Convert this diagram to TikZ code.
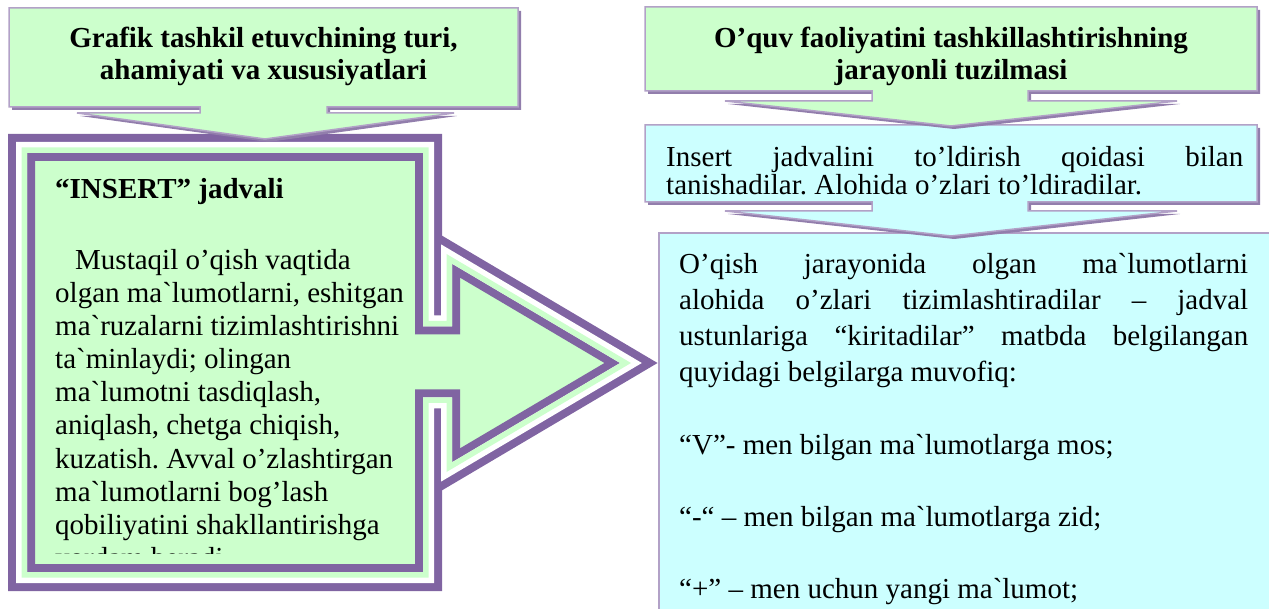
\documentclass[tikz,border=0pt]{standalone}
\usepackage{fontspec}
\setmainfont{Liberation Serif}[Ligatures=TeXOff]
\definecolor{purp}{RGB}{128,100,162}
\definecolor{lav}{RGB}{178,161,199}
\definecolor{shad}{RGB}{146,126,172}
\definecolor{gfill}{RGB}{204,255,204}
\definecolor{cfill}{RGB}{204,255,255}
\newcommand\jl[2]{\makebox[#1pt][s]{#2}}
\frenchspacing
\tikzset{
  txt/.style={inner sep=0pt, anchor=base west, font=\fontsize{29}{32}\selectfont},
  btxt/.style={inner sep=0pt, anchor=base, font=\fontsize{29}{32}\selectfont\bfseries},
  bigpath/.style={insert path={(21.5,147.5) -- (428.5,147.5) -- (428.5,321) -- (446.5,321) -- (446.5,254) -- (631,363) -- (446.5,472) -- (446.5,403) -- (428.5,403) -- (428.5,577.5) -- (21.5,577.5) -- cycle}},
  callA/.style={insert path={(9,8) -- (518,8) -- (518,107) -- (327,107) -- (327,113) -- (454,113) -- (265,139) -- (77,113) -- (200,113) -- (200,107) -- (9,107) -- cycle}},
  callB/.style={insert path={(645,7) -- (1257,7) -- (1257,91) -- (1028,91) -- (1028,101) -- (1177,101) -- (951,126) -- (725,101) -- (872,101) -- (872,91) -- (645,91) -- cycle}},
  callC/.style={insert path={(645,125) -- (1257,125) -- (1257,202) -- (1028,202) -- (1028,211) -- (1177,211) -- (951,236) -- (725,211) -- (872,211) -- (872,202) -- (645,202) -- cycle}},
  shadow/.style={fill=shad, shift={(3,3)}},
  callbox/.style={line width=1.5, draw=lav, line join=miter},
}
\begin{document}
\begin{tikzpicture}[x=1pt,y=-1pt]
\useasboundingbox (0,0) rectangle (1269,609);
% bottom right box
\begin{scope}
  \clip (0,0) rectangle (1269,609);
  \filldraw[fill=cfill, draw=lav, line width=2] (658.5,233) rectangle (1285,625);
\end{scope}
% big purple callout shape
\fill[gfill, bigpath];
\draw[purp, line width=27, miter limit=10, bigpath];
\draw[white, line width=11, miter limit=10, bigpath];
\begin{scope}
  \clip[bigpath];
  \draw[gfill, line width=11, miter limit=10, bigpath];
\end{scope}
% left top callout
\fill[shadow, callA];
\filldraw[callbox, fill=gfill, callA];
% right callouts
\fill[shadow, callC];
\filldraw[callbox, fill=cfill, callC];
\fill[shadow, callB];
\filldraw[callbox, fill=gfill, callB];
% headings
\node[btxt] (h1a) at (263.5,48) {Grafik tashkil etuvchining turi,};
\node[btxt] (h1b) at (263.5,80) {ahamiyati va xususiyatlari};
\node[btxt] (h2a) at (951,48) {O’quv faoliyatini tashkillashtirishning};
\node[btxt] (h2b) at (951,80) {jarayonli tuzilmasi};
% left body
\node[txt, font=\fontsize{29}{32}\selectfont\bfseries] (ins) at (55,199) {“INSERT” jadvali};
\node[txt] (b1) at (75,270) {Mustaqil o’qish vaqtida};
\node[txt] (b2) at (55,303) {olgan ma`lumotlarni, eshitgan};
\node[txt] (b3) at (55,336) {ma`ruzalarni tizimlashtirishni};
\node[txt] (b4) at (55,369) {ta`minlaydi; olingan};
\node[txt] (b5) at (55,402) {ma`lumotni tasdiqlash,};
\node[txt] (b6) at (55,435) {aniqlash, chetga chiqish,};
\node[txt] (b7) at (55,468) {kuzatish. Avval o’zlashtirgan};
\node[txt] (b8) at (55,501) {ma`lumotlarni bog’lash};
\node[txt] (b9) at (55,534) {qobiliyatini shakllantirishga};
\begin{scope}
  \clip (35,162) rectangle (415,553);
  \node[txt] (b10) at (55,567) {yordam beradi.};
\end{scope}
% insert box text
\node[txt] (i1) at (666,166.5) {\jl{577}{Insert jadvalini to’ldirish qoidasi bilan}};
\node[txt] (i2) at (666,195) {tanishadilar. Alohida o’zlari to’ldiradilar.};
% bottom right text
\begin{scope}
  \clip (0,0) rectangle (1269,609);
  \node[txt] (r1) at (679,274) {\jl{569}{O’qish jarayonida olgan ma`lumotlarni}};
  \node[txt] (r2) at (679,310) {\jl{569}{alohida o’zlari tizimlashtiradilar – jadval}};
  \node[txt] (r3) at (679,346) {\jl{569}{ustunlariga “kiritadilar” matbda belgilangan}};
  \node[txt] (r4) at (679,382) {quyidagi belgilarga muvofiq:};
  \node[txt] (r5) at (679,454) {“V”- men bilgan ma`lumotlarga mos;};
  \node[txt] (r6) at (679,526) {“-“ – men bilgan ma`lumotlarga zid;};
  \node[txt] (r7) at (679,598) {“+” – men uchun yangi ma`lumot;};
\end{scope}
\end{tikzpicture}
\end{document}
